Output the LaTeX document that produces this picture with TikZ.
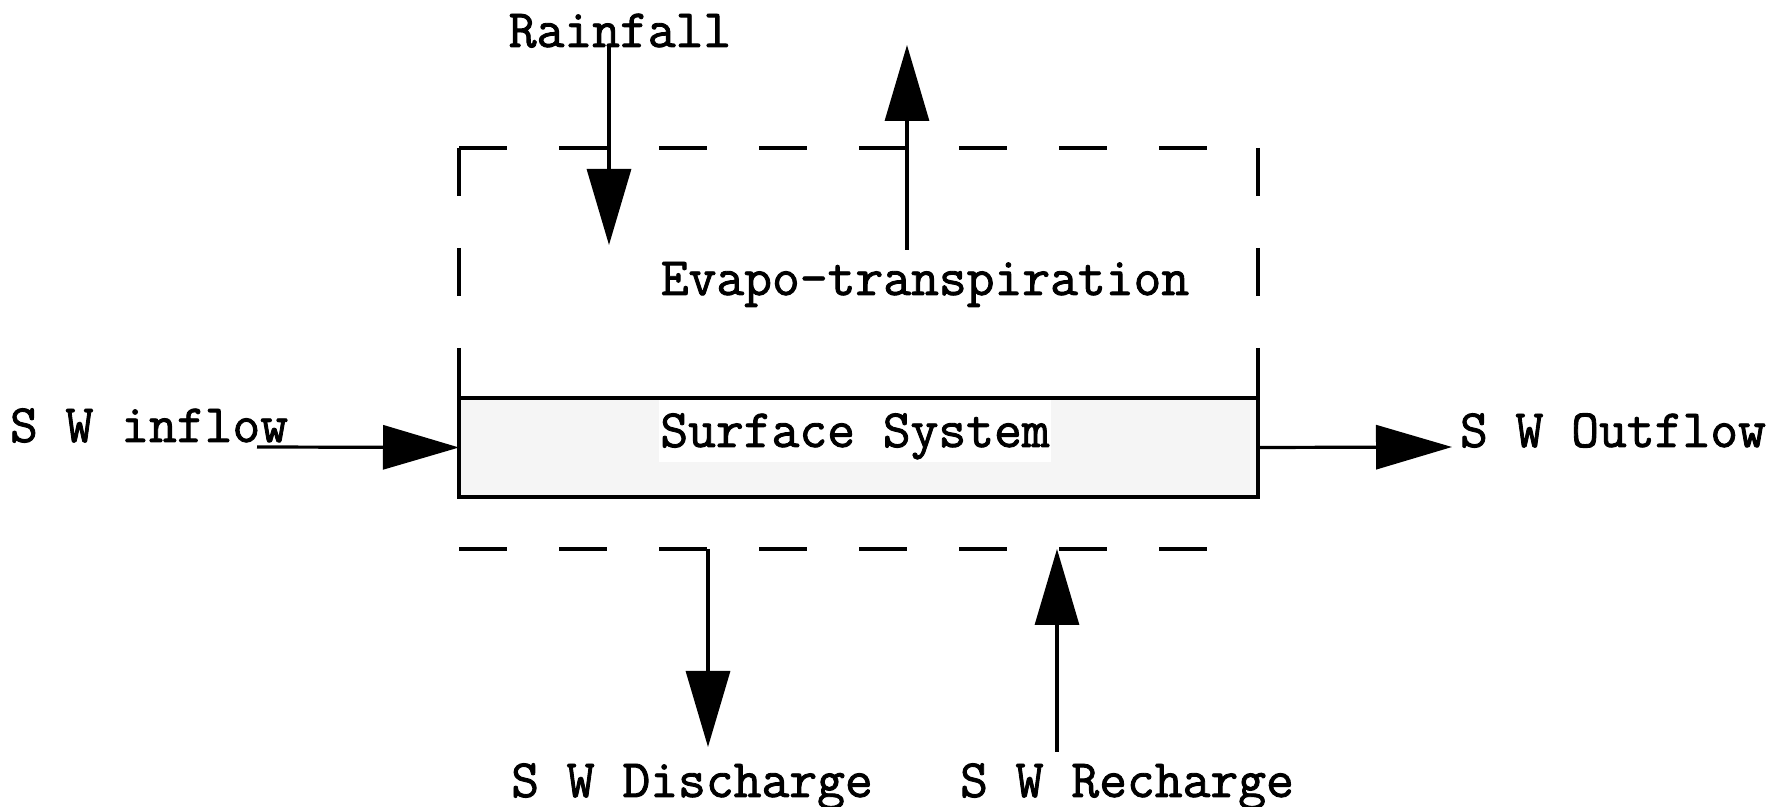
\documentclass[tikz,border=0pt]{standalone}
\usepackage{fontspec}
\newfontfamily\flowfont{Latin Modern Mono}[FakeBold=1.6]
\usetikzlibrary{arrows.meta}
\begin{document}
\begin{tikzpicture}[x=0.5pt,y=-0.5pt,
  lbl/.style={font=\fontsize{27}{31}\flowfont, inner sep=0pt, outer sep=0pt},
  flow/.style={line width=1.6pt, -{Triangle[length=38pt,width=22pt]}},
  frame/.style={line width=2pt, dash pattern=on 24pt off 26pt},
  store/.style={draw, line width=2pt, fill=black!4, inner sep=0pt, outer sep=0pt},
]
\useasboundingbox (0,0) rectangle (1785,807);

% the surface store
\node[store, minimum width=399.5pt, minimum height=49.5pt, anchor=north west] (sys) at (459,398) {};
\node[lbl, anchor=base, fill=white, text height=23.5pt, text depth=7.5pt, minimum width=196pt] (syslbl) at (855,447) {Surface System};

% dashed system boundary
\draw[frame] (459,148) -- (1258,148);
\draw[frame] (459,148) -- (sys.north west);
\draw[frame] (1258,148) -- (sys.north east);
\draw[frame] (459,549) -- (1207,549);

% labels
\node[lbl, anchor=base] (rain) at (620,47) {Rainfall};
\node[lbl, anchor=base] (evap) at (925,295) {Evapo-transpiration};
\node[lbl, anchor=base west] (inflow) at (10,442) {S W inflow};
\node[lbl, anchor=base west] (outflow) at (1460,447) {S W Outflow};
\node[lbl, anchor=base] (disch) at (692,797) {S W Discharge};
\node[lbl, anchor=base] (rech) at (1127,797) {S W Recharge};

% flow end points
\coordinate (rainTip) at (609,245);
\coordinate (evapFoot) at (907,250);
\coordinate (evapTip) at (907,45);
\coordinate (inFoot) at (257,447);
\coordinate (outTip) at (1452,447);
\coordinate (dischTop) at (708,549);
\coordinate (dischTip) at (708,747);
\coordinate (rechFoot) at (1057,752);
\coordinate (rechTip) at (1057,549);

% flows
\draw[flow] ([xshift=-5.5pt]rain.base) -- (rainTip);
\draw[flow] (evapFoot) -- (evapTip);
\draw[flow] (inFoot) -- (sys.west);
\draw[flow] (sys.east) -- (outTip);
\draw[flow] (dischTop) -- (dischTip);
\draw[flow] (rechFoot) -- (rechTip);
\end{tikzpicture}
\end{document}
